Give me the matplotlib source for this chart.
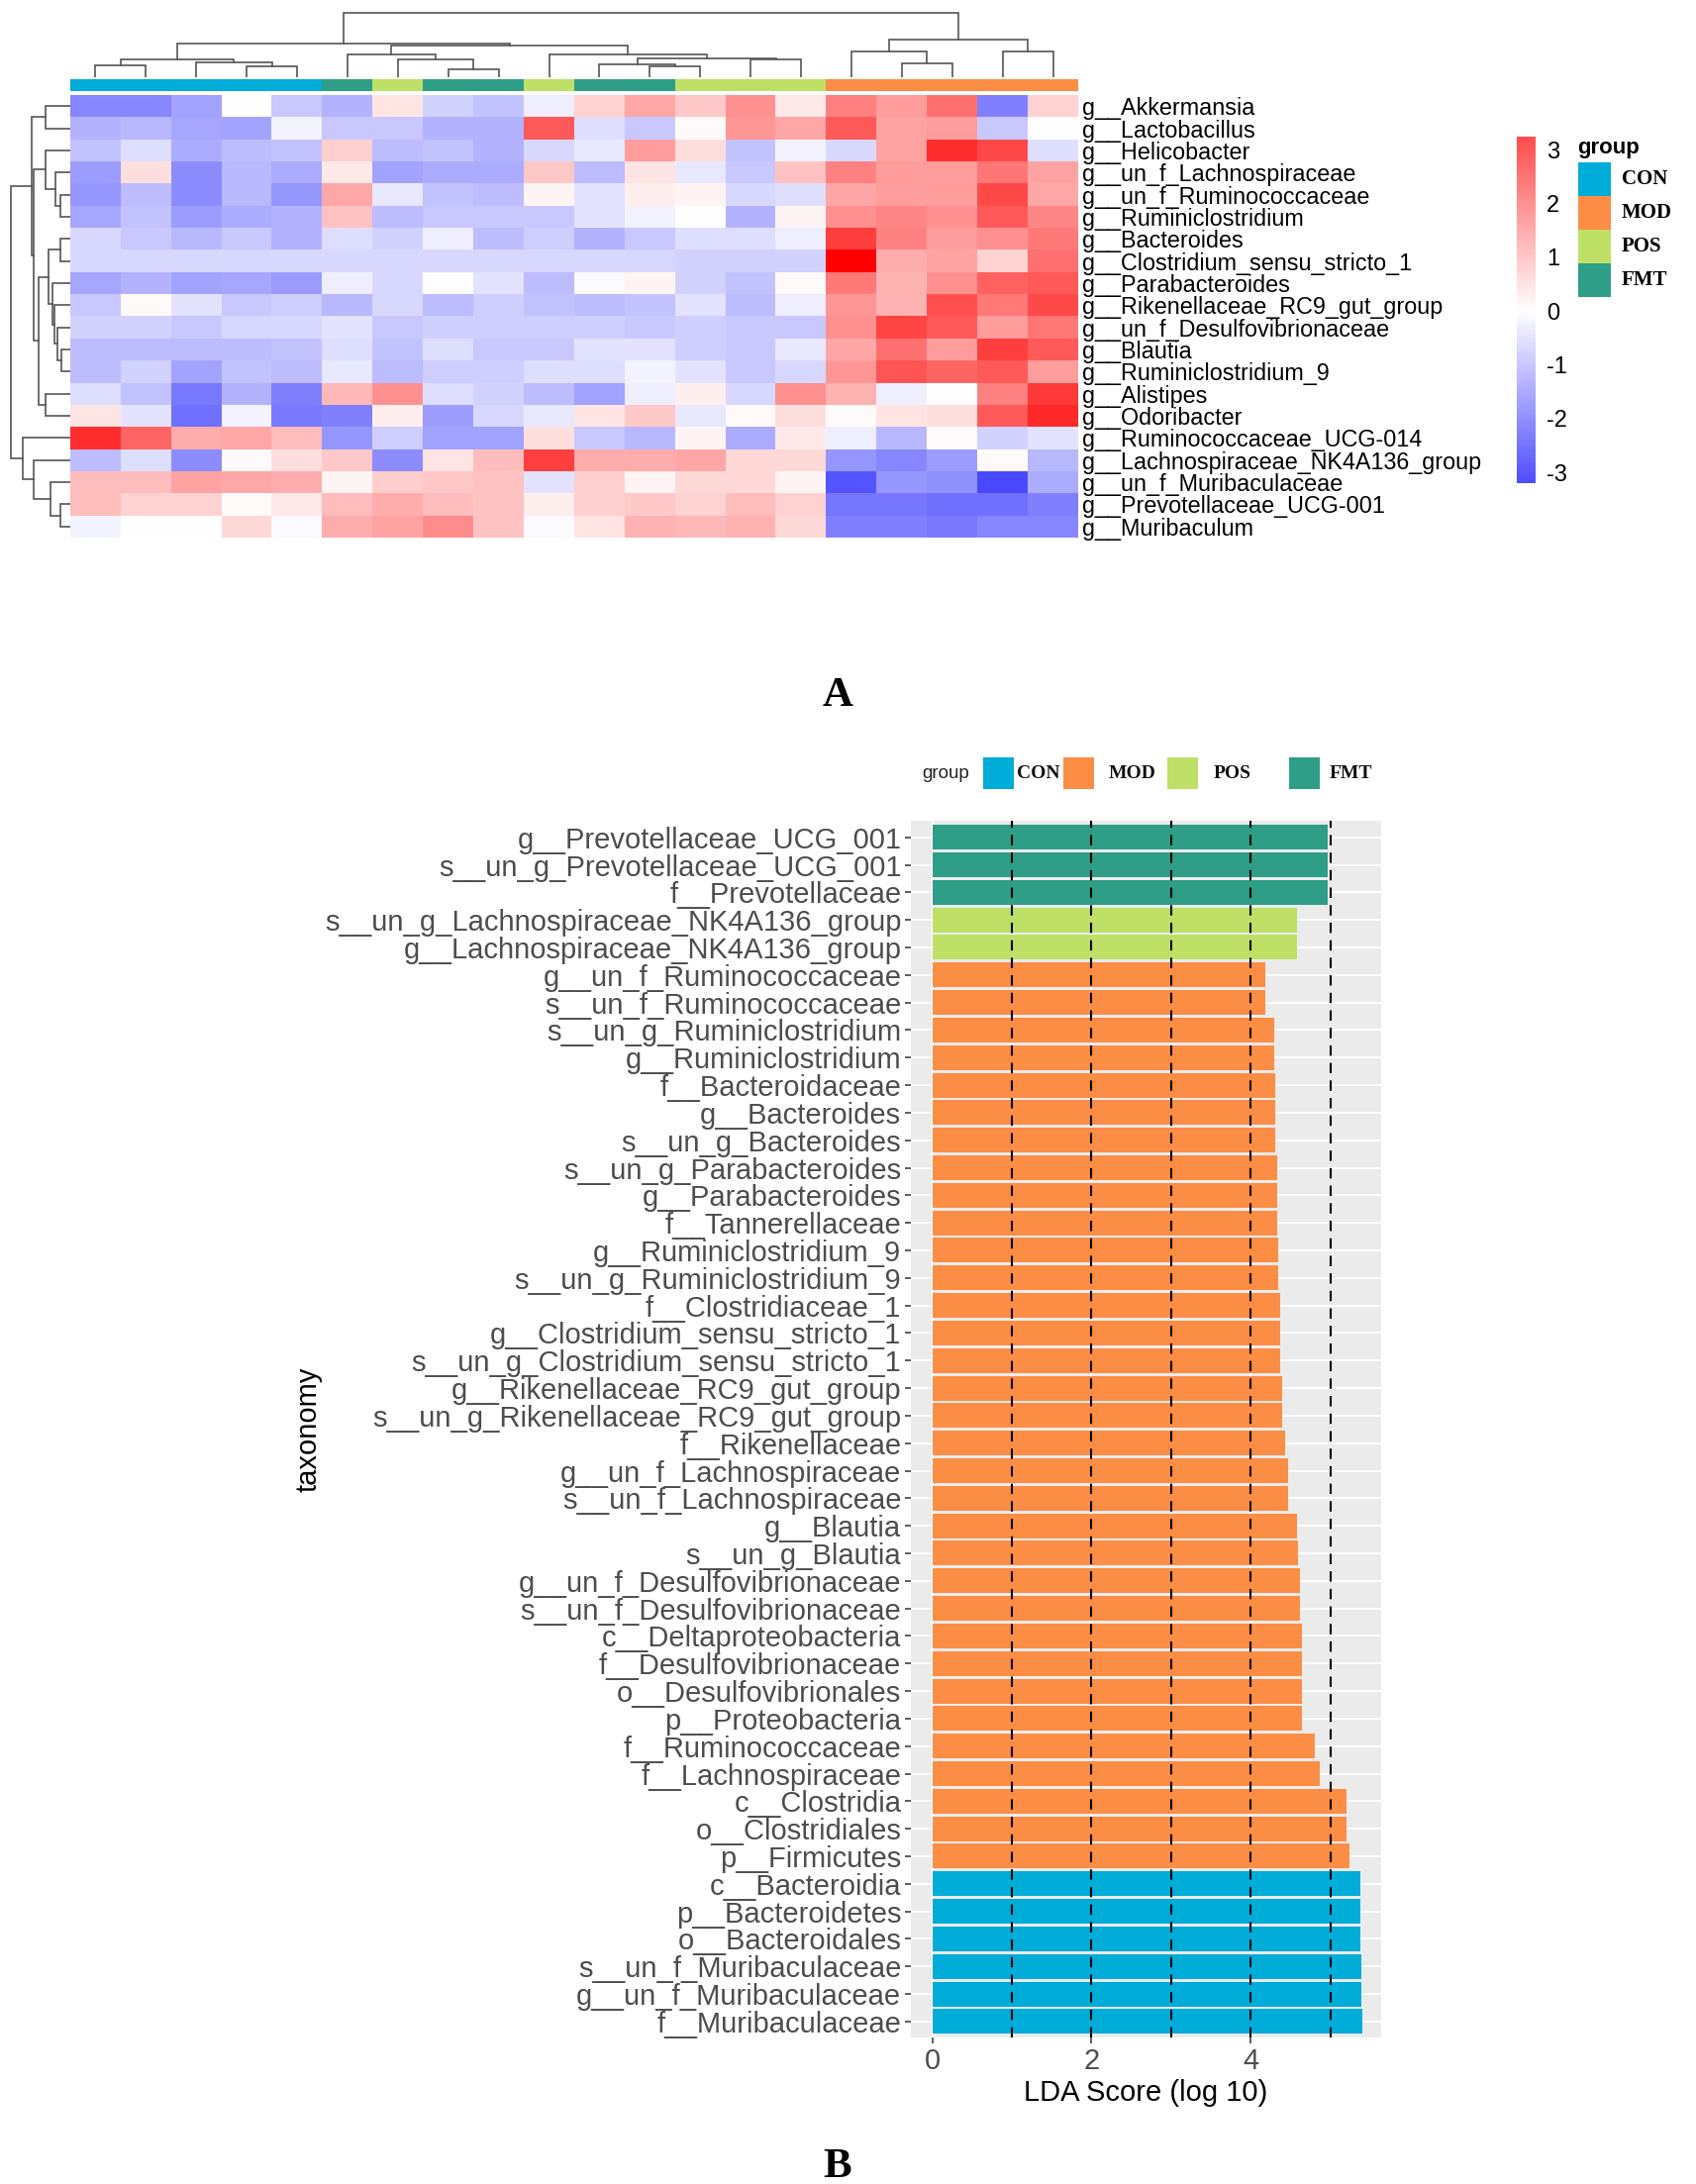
import numpy as np
import matplotlib
matplotlib.use("Agg")
import matplotlib.pyplot as plt
from matplotlib.colors import LinearSegmentedColormap, ListedColormap, Normalize
from matplotlib.patches import Rectangle

W, H = 1713, 2206
SANS = ['Liberation Sans', 'DejaVu Sans']
SERIF = ['Liberation Serif', 'DejaVu Serif']

genera = ["g__Akkermansia", "g__Lactobacillus", "g__Helicobacter", "g__un_f_Lachnospiraceae",
          "g__un_f_Ruminococcaceae", "g__Ruminiclostridium", "g__Bacteroides",
          "g__Clostridium_sensu_stricto_1", "g__Parabacteroides", "g__Rikenellaceae_RC9_gut_group",
          "g__un_f_Desulfovibrionaceae", "g__Blautia", "g__Ruminiclostridium_9", "g__Alistipes",
          "g__Odoribacter", "g__Ruminococcaceae_UCG-014", "g__Lachnospiraceae_NK4A136_group",
          "g__un_f_Muribaculaceae", "g__Prevotellaceae_UCG-001", "g__Muribaculum"]

heat_values = [
 [-2.2,-2.2,-1.7,0.0,-1.0,-1.4,0.5,-0.8,-1.1,-0.3,0.8,1.6,1.0,2.0,0.4,2.3,1.8,2.6,-2.3,0.8],
 [-1.4,-1.3,-1.6,-1.7,-0.2,-1.0,-1.0,-1.4,-1.4,3.0,-0.6,-1.0,0.1,1.9,1.6,3.0,1.7,1.8,-1.0,0.0],
 [-1.1,-0.6,-1.5,-1.2,-1.1,0.9,-1.2,-1.1,-1.4,-0.7,-0.4,1.8,0.6,-1.1,-0.2,-0.7,1.7,3.8,3.3,-0.6],
 [-1.8,0.6,-2.1,-1.3,-1.5,0.4,-1.7,-1.5,-1.5,1.0,-1.2,0.5,-0.4,-1.0,1.1,2.3,1.8,1.8,2.5,1.7],
 [-1.9,-1.2,-2.1,-1.3,-1.9,1.6,-0.4,-1.1,-1.2,0.2,-0.5,0.3,0.2,-0.7,-0.6,1.6,1.8,1.8,3.3,1.6],
 [-1.6,-1.1,-1.8,-1.5,-1.4,1.1,-1.2,-1.0,-1.0,-1.0,-0.5,-0.2,0.0,-1.4,0.2,2.0,2.2,2.0,3.0,2.2],
 [-0.7,-1.0,-1.3,-1.0,-1.4,-0.6,-0.8,-0.3,-1.2,-0.9,-1.4,-1.0,-0.6,-0.6,-0.3,3.5,2.3,1.8,2.0,2.4],
 [-0.7,-0.7,-0.7,-0.7,-0.7,-0.7,-0.7,-0.7,-0.7,-0.7,-0.7,-0.7,-0.8,-0.8,-0.8,4.65,1.5,1.7,0.8,2.6],
 [-1.6,-1.4,-1.7,-1.6,-1.8,-0.3,-0.7,0.0,-0.5,-1.2,-0.1,0.2,-0.8,-1.1,0.1,2.4,1.4,2.0,2.9,3.0],
 [-1.0,0.1,-0.5,-1.0,-0.9,-1.3,-0.7,-1.2,-0.9,-1.1,-1.2,-1.1,-0.5,-1.2,-0.3,1.9,1.4,3.2,2.4,3.3],
 [-0.8,-0.8,-1.0,-0.7,-0.7,-0.5,-1.0,-0.9,-0.9,-0.9,-0.9,-1.0,-0.9,-1.0,-1.0,2.0,3.4,3.0,1.8,2.5],
 [-1.2,-1.2,-1.2,-1.2,-1.1,-0.6,-1.1,-0.6,-1.0,-1.0,-0.5,-0.5,-0.9,-1.0,-0.4,1.6,2.6,1.8,3.5,3.0],
 [-1.2,-0.8,-1.7,-1.1,-1.2,-0.4,-1.2,-0.9,-0.9,-0.6,-0.6,-0.2,-0.5,-1.0,-0.7,1.9,3.1,2.8,3.0,1.8],
 [-0.6,-1.1,-2.4,-1.4,-2.3,1.3,2.0,-0.6,-0.8,-1.2,-1.7,-0.3,0.3,-0.7,2.0,1.4,-0.3,0.0,2.3,3.6],
 [0.5,-0.5,-2.6,-0.2,-2.4,-2.3,0.3,-1.8,-0.7,-0.4,0.5,1.0,-0.4,0.1,0.6,0.1,0.5,0.6,3.0,3.9],
 [3.8,2.8,1.5,1.6,1.2,-1.9,-0.9,-1.7,-1.7,0.6,-1.0,-1.3,0.2,-1.5,0.4,-0.3,-1.3,0.1,-0.8,-0.5],
 [-1.2,-0.6,-2.1,0.1,0.6,1.0,-2.1,0.5,1.2,3.5,1.5,1.5,1.6,0.7,0.7,-1.9,-2.2,-1.8,0.1,-1.3],
 [1.2,1.2,1.7,1.6,1.5,0.2,0.9,1.0,1.1,-0.5,0.9,0.2,0.7,0.7,0.2,-3.1,-1.9,-2.0,-3.3,-1.5],
 [1.2,0.8,0.8,0.1,0.4,1.2,1.5,1.2,1.1,0.3,0.9,1.0,0.8,1.2,0.8,-2.5,-2.5,-2.6,-2.6,-2.3],
 [-0.2,0.0,0.0,0.7,-0.1,1.5,1.7,2.1,1.1,-0.1,0.5,1.4,1.3,1.4,0.7,-2.3,-2.3,-2.4,-2.2,-2.2],
]

group_names = ["CON", "MOD", "POS", "FMT"]
group_colors = ["#00ACD8", "#FC8D45", "#BFE066", "#2F9E87"]
column_groups = ["CON"]*5 + ["FMT", "POS", "FMT", "FMT", "POS", "FMT", "FMT", "POS", "POS", "POS"] + ["MOD"]*5

# dendrogram merges: (child a, child b, height); node ids continue after the leaves
column_tree = [(0,1,11.7),(3,4,11),(2,21,15),(20,22,17.7),(7,8,8),(6,24,17.7),(5,25,22.7),
               (11,12,11),(10,27,13),(13,14,18.3),(28,29,19.3),(9,30,23.3),(26,31,31.7),
               (23,32,34.3),(16,17,13.7),(15,34,25.7),(18,19,26.3),(35,36,38.3),(33,37,65)]
row_tree = [(0,1,25),(4,5,10),(3,21,15),(2,22,25),(6,7,10),(11,12,9),(10,25,13),(9,26,16),
            (8,27,18),(24,28,22),(13,14,25),(29,30,32),(23,31,37),(20,32,39),
            (18,19,10),(17,34,20),(16,35,37),(15,36,48),(33,37,60)]

taxa = ["g__Prevotellaceae_UCG_001","s__un_g_Prevotellaceae_UCG_001","f__Prevotellaceae",
        "s__un_g_Lachnospiraceae_NK4A136_group","g__Lachnospiraceae_NK4A136_group",
        "g__un_f_Ruminococcaceae","s__un_f_Ruminococcaceae","s__un_g_Ruminiclostridium",
        "g__Ruminiclostridium","f__Bacteroidaceae","g__Bacteroides","s__un_g_Bacteroides",
        "s__un_g_Parabacteroides","g__Parabacteroides","f__Tannerellaceae","g__Ruminiclostridium_9",
        "s__un_g_Ruminiclostridium_9","f__Clostridiaceae_1","g__Clostridium_sensu_stricto_1",
        "s__un_g_Clostridium_sensu_stricto_1","g__Rikenellaceae_RC9_gut_group",
        "s__un_g_Rikenellaceae_RC9_gut_group","f__Rikenellaceae","g__un_f_Lachnospiraceae",
        "s__un_f_Lachnospiraceae","g__Blautia","s__un_g_Blautia","g__un_f_Desulfovibrionaceae",
        "s__un_f_Desulfovibrionaceae","c__Deltaproteobacteria","f__Desulfovibrionaceae",
        "o__Desulfovibrionales","p__Proteobacteria","f__Ruminococcaceae","f__Lachnospiraceae",
        "c__Clostridia","o__Clostridiales","p__Firmicutes","c__Bacteroidia","p__Bacteroidetes",
        "o__Bacteroidales","s__un_f_Muribaculaceae","g__un_f_Muribaculaceae","f__Muribaculaceae"]
lda = [4.97,4.97,4.97,4.58,4.58,4.19,4.19,4.30,4.30,4.31,4.31,4.31,4.33,4.33,4.33,4.35,4.35,4.37,4.37,
       4.37,4.40,4.40,4.43,4.47,4.47,4.58,4.59,4.62,4.62,4.64,4.64,4.64,4.64,4.81,4.87,5.20,5.20,5.24,
       5.38,5.38,5.38,5.39,5.39,5.40]
lda_groups = ["FMT"]*3 + ["POS"]*2 + ["MOD"]*33 + ["CON"]*6
lda_refs = [1, 2, 3, 4, 5]

fig = plt.figure(figsize=(W/100, H/100), dpi=100, facecolor="white")

def px_axes(x0, y0, x1, y1, **kw):
    return fig.add_axes([x0/W, 1-y1/H, (x1-x0)/W, (y1-y0)/H], **kw)

def draw_tree(ax, merges, n, horizontal):
    pos = {i: (i + 0.5, 0.0) for i in range(n)}
    for k, (a, b, h) in enumerate(merges):
        pa, ha = pos[a]; pb, hb = pos[b]
        xs, ys = [pa, pa, pb, pb], [ha, h, h, hb]
        if horizontal:
            ax.plot(xs, ys, color="#555555", lw=1.2, solid_joinstyle="miter")
        else:
            ax.plot(ys, xs, color="#555555", lw=1.2, solid_joinstyle="miter")
        pos[n + k] = ((pa + pb)/2, h)

cmap = LinearSegmentedColormap.from_list("bwr2", ["#0000FF", "#FFFFFF", "#FF0000"])
norm = Normalize(-4.65, 4.65)

# ---- heatmap ----
HL, HR, HT, HB = 71, 1089, 96, 543
ax = px_axes(HL, HT, HR, HB)
ax.imshow(np.array(heat_values), cmap=cmap, norm=norm, aspect="auto", interpolation="nearest")
ax.set_xticks([]); ax.yaxis.tick_right()
ax.set_yticks(range(20)); ax.set_yticklabels(genera, family=SANS, fontsize=16.8, color="black")
ax.tick_params(axis="y", length=0, pad=3)
for s in ax.spines.values():
    s.set_visible(False)

ax = px_axes(HL, 80, HR, 92)
ax.imshow([[group_names.index(g) for g in column_groups]], aspect="auto", interpolation="nearest",
          cmap=ListedColormap(group_colors), vmin=0, vmax=3)
ax.axis("off")

ax = px_axes(HL, 8, HR, 78)
draw_tree(ax, column_tree, 20, True)
ax.set_xlim(0, 20); ax.set_ylim(0, 70); ax.axis("off")

ax = px_axes(8, HT, HL, HB)
draw_tree(ax, row_tree, 20, False)
ax.set_xlim(63, 0); ax.set_ylim(20, 0); ax.axis("off")

# ---- colour bar ----
cb_top, cb_bot = 3.24, -3.2
ax = px_axes(1532, 138, 1551, 488)
ax.imshow(np.linspace(cb_top, cb_bot, 256)[:, None], cmap=cmap, norm=norm, aspect="auto",
          extent=[0, 1, cb_bot, cb_top])
ax.set_xticks([]); ax.yaxis.tick_right()
ax.set_yticks([-3, -2, -1, 0, 1, 2, 3]); ax.set_yticklabels(["-3", "-2", "-1", "0", "1", "2", "3"], family=SANS, fontsize=17)
ax.tick_params(axis="y", length=0, pad=8)
for s in ax.spines.values():
    s.set_visible(False)

# ---- overlay in pixel coordinates ----
ov = fig.add_axes([0, 0, 1, 1], zorder=5)
ov.set_xlim(0, W); ov.set_ylim(H, 0); ov.axis("off"); ov.patch.set_alpha(0)

ov.text(1593, 149, "group", family=SANS, fontsize=16, fontweight="bold", va="center")
for i, (g, c) in enumerate(zip(group_names, group_colors)):
    ov.add_patch(Rectangle((1594, 164 + 34*i), 33, 34, fc=c, ec="none"))
    ov.text(1638, 181 + 34*i, g, family=SERIF, fontsize=15, fontweight="bold", va="center")

ov.text(931, 781, "group", family=SANS, fontsize=13.5, va="center", color="#222222")
for g, x0, tx in zip(["CON", "MOD", "POS", "FMT"], [993, 1074, 1179, 1302], [1027, 1120, 1226, 1343]):
    ov.add_patch(Rectangle((x0, 765), 31, 32, fc=group_colors[group_names.index(g)], ec="none"))
    ov.text(tx, 781, g, family=SERIF, fontsize=14, fontweight="bold", va="center", color="#111111")

ov.text(846, 703, "A", family=SERIF, fontsize=31, fontweight="bold", ha="center", va="center")
ov.text(846, 2189, "B", family=SERIF, fontsize=31, fontweight="bold", ha="center", va="center")

# ---- LDA bars ----
ax = px_axes(920, 829, 1395, 2058)
ax.set_facecolor("#EBEBEB")
y = np.arange(len(taxa))
ax.barh(y, lda, height=0.9, color=[group_colors[group_names.index(g)] for g in lda_groups], zorder=3)
for r in lda_refs:
    ax.axvline(r, color="black", lw=1.5, ls=(0, (5, 3.5)), zorder=4)
ax.set_xlim(-0.27, 5.64); ax.set_ylim(43.58, -0.6)
ax.set_xticks([0, 2, 4]); ax.set_xticklabels(["0", "2", "4"], family=SANS, fontsize=21, color="#4D4D4D")
ax.set_yticks(y); ax.set_yticklabels(taxa, family=SANS, fontsize=21, color="#4D4D4D")
ax.tick_params(axis="both", length=4, width=1.1, color="#333333", pad=3)
ax.grid(True, axis="both", color="white", lw=1.3, zorder=1)
ax.set_axisbelow(True)
for s in ax.spines.values():
    s.set_visible(False)
ax.set_xlabel("LDA Score (log 10)", family=SANS, fontsize=21, labelpad=3)
ov.text(311, 1444, "taxonomy", family=SANS, fontsize=21, rotation=90, ha="center", va="center")

fig.savefig("out.png", dpi=100)
